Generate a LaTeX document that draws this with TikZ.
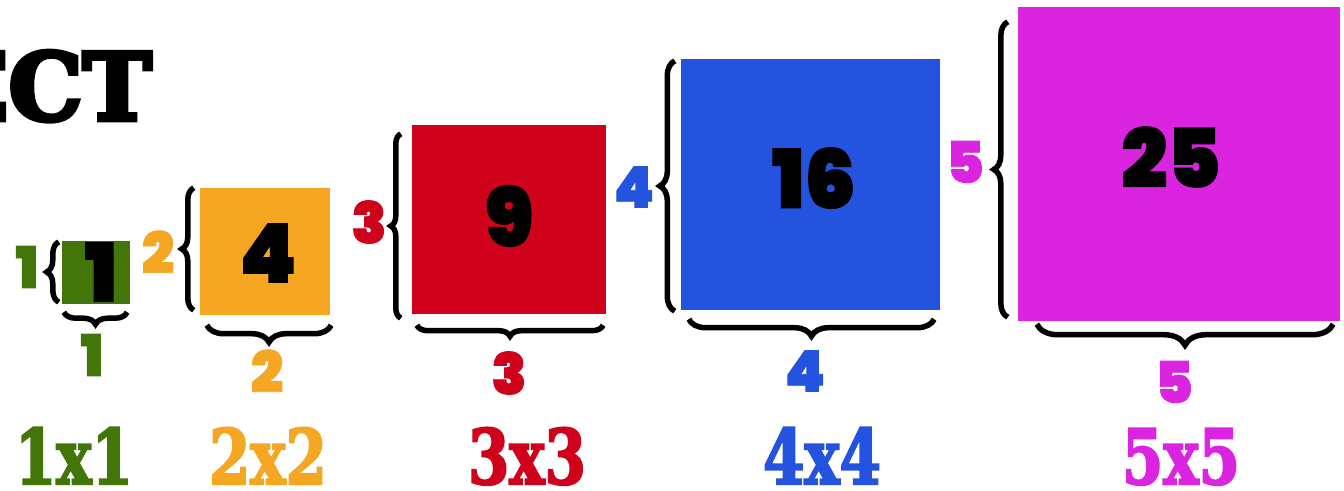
\documentclass[tikz,border=0pt]{standalone}
\usepackage{fontspec}
\usetikzlibrary{decorations.pathreplacing}
\IfFontExistsTF{Poppins Black}{\newfontfamily\numfont{Poppins Black}[FakeBold=1.5]}{%
  \IfFontExistsTF{Poppins ExtraBold}{\newfontfamily\numfont{Poppins ExtraBold}[FakeBold=1.5]}{%
    \newfontfamily\numfont{Poppins}[UprightFont=* Bold, FakeBold=1.5]}}
\newfontfamily\slabfont{DejaVu Serif Bold}[FakeBold=3]
\newfontfamily\titlefont{DejaVu Serif Bold}[FakeBold=5]
\definecolor{cg}{RGB}{67,118,8}
\definecolor{co}{RGB}{245,166,35}
\definecolor{cr}{RGB}{208,2,27}
\definecolor{cb}{RGB}{36,83,224}
\definecolor{cm}{RGB}{219,36,224}
\begin{document}
\begin{tikzpicture}[x=1pt,y=-1pt,
  sq/.style={rectangle, inner sep=0pt, draw=none},
  num/.style={font=\numfont\fontsize{81}{81}\selectfont, inner sep=0pt, text=black},
  side/.style={font=\numfont\fontsize{57}{57}\selectfont, inner sep=0pt},
  dimlab/.style={font=\slabfont\fontsize{76}{76}\selectfont, inner sep=0pt, xscale=0.78, anchor=base},
  brc/.style={decorate, decoration={brace, amplitude=#1}, line width=5.5pt, black}]
\useasboundingbox (0,0) rectangle (1344,490);
\clip (0,0) rectangle (1344,490);
\fill[white] (0,0) rectangle (1344,490);

% title fragment
\node[font=\titlefont\fontsize{93}{93}\selectfont, inner sep=0pt, anchor=base east] (title) at (152,120) {ECT};

% squares
\node[sq, fill=cg, minimum width=68pt,  minimum height=63pt]  (s1) at (96,272.5) {};
\node[sq, fill=co, minimum width=130pt, minimum height=127pt] (s2) at (265,251.5) {};
\node[sq, fill=cr, minimum width=194pt, minimum height=189pt] (s3) at (509,219.5) {};
\node[sq, fill=cb, minimum width=259pt, minimum height=251pt] (s4) at (810.5,184.5) {};
\node[sq, fill=cm, minimum width=322pt, minimum height=314pt] (s5) at (1179,164) {};

% area numbers
\node[num] (n1) at (101,272) {1};
\node[num] (n2) at (268,253) {4};
\node[num] (n3) at (509,216) {9};
\node[num] (n4) at (814,178) {16};
\node[num] (n5) at (1171,157) {25};

% vertical braces
\draw[brc=12] ([xshift=-3pt,yshift=2pt]s1.south west) -- ([xshift=-3pt,yshift=-1pt]s1.north west);
\draw[brc=12] ([xshift=-6pt,yshift=5pt]s2.south west) -- ([xshift=-6pt]s2.north west);
\draw[brc=10] ([xshift=-11pt,yshift=-4pt]s3.south west) -- ([xshift=-11pt,yshift=-9pt]s3.north west);
\draw[brc=15] ([xshift=-6pt,yshift=-1pt]s4.south west) -- ([xshift=-6pt,yshift=-2pt]s4.north west);
\draw[brc=14] ([xshift=-10pt,yshift=4pt]s5.south west) -- ([xshift=-10pt,yshift=-15pt]s5.north west);

% horizontal braces
\draw[brc=12] ([xshift=-3pt,yshift=-8pt]s1.south east) -- ([xshift=2pt,yshift=-8pt]s1.south west);
\draw[brc=17] ([xshift=1pt,yshift=-10pt]s2.south east) -- ([xshift=7pt,yshift=-10pt]s2.south west);
\draw[brc=11] ([xshift=-3pt,yshift=-11pt]s3.south east) -- ([xshift=5pt,yshift=-11pt]s3.south west);
\draw[brc=17] ([xshift=-6pt,yshift=-9pt]s4.south east) -- ([xshift=8pt,yshift=-9pt]s4.south west);
\draw[brc=21] ([xshift=-7pt,yshift=-3pt]s5.south east) -- ([xshift=19pt,yshift=-3pt]s5.south west);

% side labels
\node[side, text=cg] (h1) at (27,267) {1};
\node[side, text=co] (h2) at (158,252) {2};
\node[side, text=cr] (h3) at (369,222) {3};
\node[side, text=cb] (h4) at (634,187) {4};
\node[side, text=cm] (h5) at (965,162) {5};

% bottom side labels
\node[side, text=cg] (w1) at (92,355) {1};
\node[side, text=co] (w2) at (267,371) {2};
\node[side, text=cr] (w3) at (509,373) {3};
\node[side, text=cb] (w4) at (805,371) {4};
\node[side, text=cm] (w5) at (1174,382) {5};

% dimension labels
\node[dimlab, text=cg] (d1) at (74,484) {1x1};
\node[dimlab, text=co] (d2) at (268,484) {2x2};
\node[dimlab, text=cr] (d3) at (527,484) {3x3};
\node[dimlab, text=cb] (d4) at (822,484) {4x4};
\node[dimlab, text=cm] (d5) at (1181,484) {5x5};
\end{tikzpicture}
\end{document}
